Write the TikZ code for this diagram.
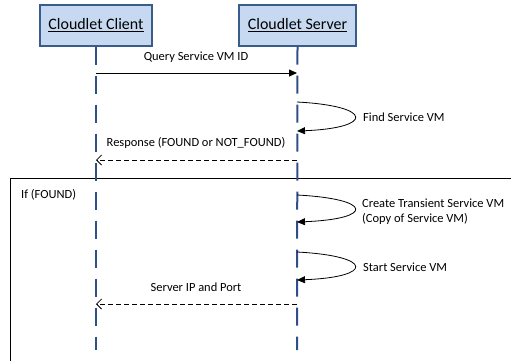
\documentclass[tikz,border=0pt]{standalone}
\usepackage{fontspec}
\setmainfont{Carlito}
\usetikzlibrary{arrows.meta}
\definecolor{boxfill}{HTML}{C6D9F1}
\definecolor{boxline}{HTML}{385D8A}
\definecolor{lifecol}{HTML}{2F4F8A}
\tikzset{
  actor/.style={draw=boxline, line width=2bp, fill=boxfill, minimum height=41bp,
    inner sep=0pt, font=\fontsize{16}{19}\selectfont},
  lifeline/.style={draw=lifecol, line width=2bp, dash pattern=on 18bp off 11bp},
  msg/.style={line width=0.8bp, -{Triangle[length=8bp,width=7bp]}},
  reply/.style={line width=0.8bp, dash pattern=on 5bp off 3bp, -{Straight Barb[length=5bp,width=10bp]}},
  selfcall/.style={line width=0.8bp, -{Triangle[length=8bp,width=7bp]}},
  lbl/.style={font=\fontsize{12.5}{15}\selectfont, inner sep=0pt},
  frame/.style={draw=black, line width=0.9bp}
}
\begin{document}
\begin{tikzpicture}[x=1bp,y=-1bp]
\useasboundingbox (0,0) rectangle (511,360);
\clip (0,0) rectangle (511,360);

% combined fragment frame
\draw[frame] (10,178) rectangle (530,380);
\node[lbl, anchor=west] (cond) at (21,195) {If (FOUND)};

% lifelines
\node[actor, minimum width=112bp] (client) at (96,25) {\underline{Cloudlet Client}};
\node[actor, minimum width=117bp] (server) at (297.5,25) {\underline{Cloudlet Server}};
\coordinate (cx) at (96,0);
\coordinate (sx) at (297,0);
\draw[lifeline] (client.south) -- (cx |- 0,350);
\draw[lifeline] (server.south) -- (sx |- 0,350);

% query request
\coordinate (q1) at (96,73);
\coordinate (q2) at (297,73);
\draw[msg] (q1) -- (q2);
\node[lbl] (qlabel) at (196,57) {Query Service VM ID};

% find service VM
\coordinate (f1) at (297,102);
\coordinate (f2) at (297,131);
\draw[selfcall] (f1) .. controls (374,106) and (374,128) .. (f2);
\node[lbl, anchor=west] (flabel) at (363,117) {Find Service VM};

% response
\coordinate (r1) at (297,160);
\coordinate (r2) at (96,160);
\draw[reply] (r1) -- (r2);
\node[lbl] (rlabel) at (196,143) {Response (FOUND or NOT\_FOUND)};

% create transient VM
\coordinate (c1) at (297,195);
\coordinate (c2) at (297,222);
\draw[selfcall] (c1) .. controls (374,199) and (374,219) .. (c2);
\node[lbl, anchor=west, align=left] (clabel) at (362,212) {Create Transient Service VM\\(Copy of Service VM)};

% start VM
\coordinate (s1) at (297,252);
\coordinate (s2) at (297,280);
\draw[selfcall] (s1) .. controls (374,256) and (374,277) .. (s2);
\node[lbl, anchor=west] (slabel) at (363,267) {Start Service VM};

% server address reply
\coordinate (p1) at (297,304);
\coordinate (p2) at (96,304);
\draw[reply] (p1) -- (p2);
\node[lbl] (plabel) at (196,287) {Server IP and Port};
\end{tikzpicture}
\end{document}
